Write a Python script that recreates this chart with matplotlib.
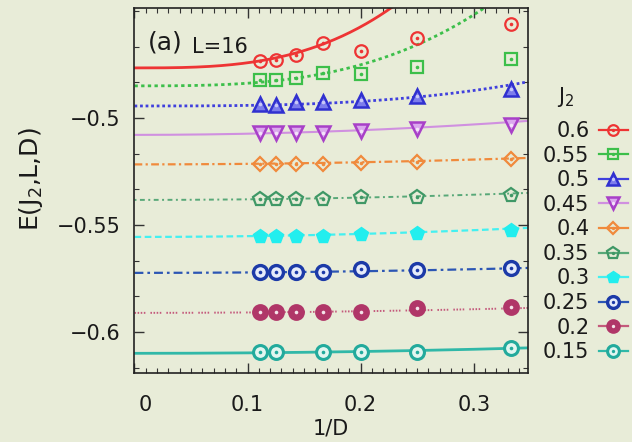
import numpy as np
import matplotlib
matplotlib.use("Agg")
import matplotlib.pyplot as plt
from matplotlib.lines import Line2D
from matplotlib.ticker import MultipleLocator
import matplotlib.transforms as mtransforms

# bond dimension D -> 1/D
inv_D = [1/9, 1/8, 1/7, 1/6, 1/5, 1/4, 1/3]
inv_D_015 = [1/9, 1/8, 1/6, 1/5, 1/4, 1/3]

# energies per site, L=16
E_060 = [-0.4734, -0.4729, -0.4706, -0.4650, -0.4687, -0.4626, -0.4561]
E_055 = [-0.4822, -0.4822, -0.4813, -0.4790, -0.4794, -0.4762, -0.4724]
E_050 = [-0.4935, -0.4939, -0.4925, -0.4925, -0.4916, -0.4897, -0.4864]
E_045 = [-0.5070, -0.5070, -0.5070, -0.5070, -0.5061, -0.5051, -0.5033]
E_040 = [-0.5215, -0.5215, -0.5215, -0.5215, -0.5210, -0.5206, -0.5192]
E_035 = [-0.5379, -0.5379, -0.5379, -0.5379, -0.5369, -0.5369, -0.5360]
E_030 = [-0.5551, -0.5551, -0.5551, -0.5551, -0.5542, -0.5537, -0.5523]
E_025 = [-0.5720, -0.5720, -0.5720, -0.5720, -0.5706, -0.5710, -0.5701]
E_020 = [-0.5907, -0.5907, -0.5907, -0.5907, -0.5907, -0.5888, -0.5883]
E_015 = [-0.6093, -0.6093, -0.6093, -0.6093, -0.6093, -0.6075]

J2_labels = ["0.6", "0.55", "0.5", "0.45", "0.4", "0.35", "0.3", "0.25", "0.2", "0.15"]

# extrapolation fits E(x) = E0 + b * x**p
fit_E0 = [-0.4766, -0.4850, -0.4944, -0.5079, -0.5217, -0.5383, -0.5556, -0.5724, -0.5911, -0.6100]
fit_b = [2.4, 1.23, 0.268, 0.054, 0.025, 0.027, 0.035, 0.019, 0.019, 0.021]
fit_p = [3, 3, 3, 2, 2, 2, 2, 2, 2, 2]

series_x = [inv_D] * 9 + [inv_D_015]
series_E = [E_060, E_055, E_050, E_045, E_040, E_035, E_030, E_025, E_020, E_015]

bg = "#e8ecd8"

# per-series style: line color, linestyle, lw, marker, size, edge, face, edge width, inner dot color
styles = [
    dict(lc="#ee3434", ls="-", lw=2.0, m="o", ms=9.0, mec="#ee3434", mfc="none", mew=1.6, dot="#ee3434"),
    dict(lc="#3cbf4a", ls=(0, (1.2, 1.2)), lw=2.0, m="s", ms=9.0, mec="#3cbf4a", mfc="none", mew=1.6, dot="#3cbf4a"),
    dict(lc="#4040dd", ls=(0, (1.0, 1.0)), lw=2.0, m="^", ms=10.0, mec="#3030d0", mfc="#7d7dec", mew=1.8, dot="#c8c8f8"),
    dict(lc="#d090e0", ls="-", lw=1.5, m="v", ms=10.0, mec="#a840c8", mfc="#dba8ee", mew=1.8, dot="#f4e4fa"),
    dict(lc="#f08a3c", ls=(0, (3.5, 1.5, 1.0, 1.5)), lw=1.6, m="D", ms=7.4, mec="#f08a3c", mfc="none", mew=1.6, dot="#f08a3c"),
    dict(lc="#58a878", ls=(0, (1.0, 1.8, 2.5, 1.8)), lw=1.4, m="p", ms=10.5, mec="#3f9866", mfc="none", mew=1.6, dot="#3f9866"),
    dict(lc="#44f0f0", ls=(0, (3.0, 1.6)), lw=1.6, m="p", ms=10.5, mec="#22eeee", mfc="#22eeee", mew=1.0, dot=None),
    dict(lc="#2c56b4", ls=(0, (4.0, 1.8, 1.2, 1.8)), lw=1.6, m="o", ms=10.0, mec="#1c3aa8", mfc="#e6ecfa", mew=2.4, dot="#1c3aa8"),
    dict(lc="#c45a7c", ls=(0, (0.8, 0.8, 0.8, 0.8, 0.8, 0.8, 0.8, 2.6)), lw=1.4, m="o", ms=10.5, mec="#b03668", mfc="#b03668", mew=1.6, dot="#f4e4ea"),
    dict(lc="#30b8a8", ls="-", lw=2.0, m="o", ms=10.0, mec="#22aa9c", mfc="#e2f6f0", mew=2.2, dot="#22aa9c"),
]

plt.rcParams["font.family"] = ["DejaVu Sans"]
FS = 15

fig = plt.figure(figsize=(6.32, 4.42), dpi=100)
fig.patch.set_facecolor(bg)
ax = fig.add_axes([0.2128, 0.1561, 0.8354 - 0.2128, 0.9819 - 0.1561])
ax.set_facecolor(bg)

xmax = 0.348
xs = np.linspace(0.0, xmax, 300)

handles = []
for k in range(len(series_E)):
    st = styles[k]
    ax.plot(xs, fit_E0[k] + fit_b[k] * xs ** fit_p[k], color=st["lc"], ls=st["ls"],
            lw=st["lw"], zorder=2)
    ax.plot(series_x[k], series_E[k], ls="none", marker=st["m"], ms=st["ms"],
            mec=st["mec"], mfc=st["mfc"], mew=st["mew"], zorder=3)
    if st["dot"] is not None:
        ax.plot(series_x[k], series_E[k], ls="none", marker="o", ms=2.6,
                mec="none", mfc=st["dot"], zorder=4)
    h_line = Line2D([], [], color=st["lc"], ls="-", lw=1.6, marker=st["m"], ms=st["ms"] * 0.85,
                    mec=st["mec"], mfc=st["mfc"], mew=st["mew"])
    if st["dot"] is not None:
        h_dot = Line2D([], [], ls="none", marker="o", ms=2.4, mec="none", mfc=st["dot"])
        handles.append((h_line, h_dot))
    else:
        handles.append(h_line)

ax.set_xlim(0.0, xmax)
ax.set_ylim(-0.6192, -0.4486)

ax.xaxis.set_minor_locator(MultipleLocator(0.01))
ax.yaxis.set_minor_locator(MultipleLocator(0.05 / 3))
ax.set_xticks([0, 0.1, 0.2, 0.3])
ax.set_xticklabels(["0", "0.1", "0.2", "0.3"])
ax.set_yticks([-0.6, -0.55, -0.5])
ax.set_yticklabels(["\u22120.6", "\u22120.55", "\u22120.5"])

ax.tick_params(which="both", direction="in", top=True, right=True, colors="#333333",
               labelcolor="#1a1a1a", labelsize=FS)
ax.tick_params(which="major", length=7, width=1.0)
ax.tick_params(which="minor", length=3.5, width=0.8)
ax.tick_params(axis="x", pad=16)
ax.tick_params(axis="y", pad=10)
for sp in ax.spines.values():
    sp.set_color("#222222")
    sp.set_linewidth(1.2)

# nudge the "0" label clear of the left spine
lab0 = ax.get_xticklabels()[0]
lab0.set_transform(lab0.get_transform() + mtransforms.ScaledTranslation(11 / 100, 0, fig.dpi_scale_trans))

ax.set_xlabel("1/D", fontsize=FS, color="#1a1a1a", labelpad=2)
ax.set_ylabel("E(J$_2$,L,D)", fontsize=18, color="#1a1a1a")
ax.yaxis.set_label_coords(-0.228, 0.53)

ax.text(0.035, 0.905, "(a)", transform=ax.transAxes, fontsize=18, color="#1a1a1a",
        va="center", ha="left")
ax.text(0.145, 0.893, "L=16", transform=ax.transAxes, fontsize=FS, color="#1a1a1a",
        va="center", ha="left")

# legend title and entries
fig.text(557 / 632, 1 - 97 / 442, "J$_2$", fontsize=FS, color="#1a1a1a", ha="left", va="center")
leg = fig.legend(handles, J2_labels, loc="upper left", bbox_to_anchor=(543 / 632, 1 - 121 / 442),
                 frameon=False, markerfirst=False, fontsize=FS,
                 handlelength=1.4, handletextpad=0.45,
                 labelspacing=0.22, borderpad=0.0, borderaxespad=0.0)
for t in leg.get_texts():
    t.set_color("#1a1a1a")

fig.savefig("out.png", dpi=100, facecolor=bg)
